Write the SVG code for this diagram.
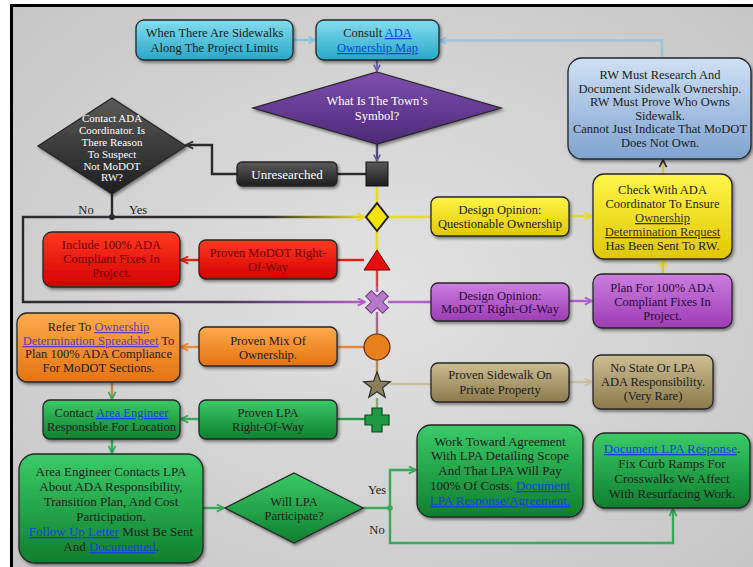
<svg xmlns="http://www.w3.org/2000/svg" width="753" height="567" viewBox="0 0 753 567">
<defs>
<radialGradient id="bg" cx="0.5" cy="0.5" r="0.75">
<stop offset="0" stop-color="#e2e2e2"/><stop offset="1" stop-color="#c4c4c4"/>
</radialGradient>
<linearGradient id="gCyan" x1="0" y1="0" x2="0" y2="1"><stop offset="0" stop-color="#86dcee"/><stop offset="1" stop-color="#25a9c8"/></linearGradient>
<linearGradient id="gSteel" x1="0" y1="0" x2="0" y2="1"><stop offset="0" stop-color="#cfe0f4"/><stop offset="1" stop-color="#7fa3d0"/></linearGradient>
<linearGradient id="gPurpD" x1="0" y1="0" x2="0" y2="1"><stop offset="0" stop-color="#7e4fb0"/><stop offset="1" stop-color="#4c2a78"/></linearGradient>
<linearGradient id="gYel" x1="0" y1="0" x2="0" y2="1"><stop offset="0" stop-color="#fff54a"/><stop offset="1" stop-color="#e0c800"/></linearGradient>
<linearGradient id="gPurp" x1="0" y1="0" x2="0" y2="1"><stop offset="0" stop-color="#cc7ee0"/><stop offset="1" stop-color="#9c3cb4"/></linearGradient>
<linearGradient id="gTan" x1="0" y1="0" x2="0" y2="1"><stop offset="0" stop-color="#cdbd92"/><stop offset="1" stop-color="#8c7a4c"/></linearGradient>
<linearGradient id="gRed" x1="0" y1="0" x2="0" y2="1"><stop offset="0" stop-color="#ff3a22"/><stop offset="1" stop-color="#d40000"/></linearGradient>
<linearGradient id="gOr" x1="0" y1="0" x2="0" y2="1"><stop offset="0" stop-color="#ffaa4c"/><stop offset="1" stop-color="#e47412"/></linearGradient>
<linearGradient id="gGr" x1="0" y1="0" x2="0" y2="1"><stop offset="0" stop-color="#3acb68"/><stop offset="1" stop-color="#0f7f2e"/></linearGradient>
<linearGradient id="gDark" x1="0" y1="0" x2="0" y2="1"><stop offset="0" stop-color="#5a5a5a"/><stop offset="1" stop-color="#1e1e1e"/></linearGradient>
<linearGradient id="gYesLine" x1="112" y1="0" x2="365" y2="0" gradientUnits="userSpaceOnUse"><stop offset="0" stop-color="#2a2a2a"/><stop offset="0.6" stop-color="#2a2a2a"/><stop offset="1" stop-color="#e8dc20"/></linearGradient>
<linearGradient id="gNoLine" x1="23" y1="0" x2="366" y2="0" gradientUnits="userSpaceOnUse"><stop offset="0" stop-color="#2a2a2a"/><stop offset="0.6" stop-color="#4a3a5a"/><stop offset="1" stop-color="#b060c8"/></linearGradient>
<filter id="sh" x="-20%" y="-20%" width="140%" height="150%"><feDropShadow dx="1.5" dy="2" stdDeviation="1.6" flood-color="#000" flood-opacity="0.45"/></filter>
<marker id="aBlue" viewBox="0 0 10 10" refX="9" refY="5" markerWidth="8" markerHeight="8" markerUnits="userSpaceOnUse" orient="auto"><path d="M1,1 L9,5 L1,9" fill="none" stroke="#80c4e0" stroke-width="2"/></marker>
<marker id="aPurpD" viewBox="0 0 10 10" refX="9" refY="5" markerWidth="8" markerHeight="8" markerUnits="userSpaceOnUse" orient="auto"><path d="M1,1 L9,5 L1,9" fill="none" stroke="#6a5a9a" stroke-width="2"/></marker>
<marker id="aDark" viewBox="0 0 10 10" refX="9" refY="5" markerWidth="9" markerHeight="9" markerUnits="userSpaceOnUse" orient="auto"><path d="M1,1 L9,5 L1,9" fill="none" stroke="#333" stroke-width="2"/></marker>
<marker id="aYel" viewBox="0 0 10 10" refX="9" refY="5" markerWidth="9" markerHeight="9" markerUnits="userSpaceOnUse" orient="auto"><path d="M1,1 L9,5 L1,9" fill="none" stroke="#e8dc20" stroke-width="2"/></marker>
<marker id="aPurp" viewBox="0 0 10 10" refX="9" refY="5" markerWidth="9" markerHeight="9" markerUnits="userSpaceOnUse" orient="auto"><path d="M1,1 L9,5 L1,9" fill="none" stroke="#b060c8" stroke-width="2"/></marker>
<marker id="aRed" viewBox="0 0 10 10" refX="9" refY="5" markerWidth="9" markerHeight="9" markerUnits="userSpaceOnUse" orient="auto"><path d="M1,1 L9,5 L1,9" fill="none" stroke="#e02010" stroke-width="2"/></marker>
<marker id="aOr" viewBox="0 0 10 10" refX="9" refY="5" markerWidth="9" markerHeight="9" markerUnits="userSpaceOnUse" orient="auto"><path d="M1,1 L9,5 L1,9" fill="none" stroke="#e88a3a" stroke-width="2"/></marker>
<marker id="aTan" viewBox="0 0 10 10" refX="9" refY="5" markerWidth="9" markerHeight="9" markerUnits="userSpaceOnUse" orient="auto"><path d="M1,1 L9,5 L1,9" fill="none" stroke="#c8bea0" stroke-width="2"/></marker>
<marker id="aGr" viewBox="0 0 10 10" refX="9" refY="5" markerWidth="9" markerHeight="9" markerUnits="userSpaceOnUse" orient="auto"><path d="M1,1 L9,5 L1,9" fill="none" stroke="#3aa85a" stroke-width="2"/></marker>
<style>
text{font-family:"Liberation Serif","Times New Roman",serif;font-size:12.5px;text-anchor:middle;fill:#1c1c1c}
.box{stroke:#262626;stroke-width:1.3;filter:url(#sh)}
.w{fill:#ffffff}
.dr{fill:#6e0000}
.pt{fill:#2a0a3a}
.lk{fill:#1a3ee0;text-decoration:underline}
.lp{fill:#5a3cc0;text-decoration:underline}
.ld{fill:#333;text-decoration:underline}
.c{fill:none;stroke-width:2.4}
.sm{font-size:11px}
.big{font-size:13px}
</style>
</defs>
<rect x="0" y="0" width="753" height="567" fill="#ffffff"/>
<rect x="12" y="6" width="741" height="561" fill="url(#bg)"/>
<path d="M10,5.5 H753 M11.5,4 V567" fill="none" stroke="#000" stroke-width="3"/>

<g id="connectors">
<path class="c" d="M293,40 H315" stroke="#80c4e0" marker-end="url(#aBlue)"/>
<path class="c" d="M662,58 V40.5 H440" stroke="#9cc4dc" marker-end="url(#aBlue)"/>
<path class="c" d="M377,60 V71" stroke="#7a68a8" marker-end="url(#aPurpD)"/>
<path class="c" d="M377,144 V161" stroke="#5a4a7a" marker-end="url(#aPurpD)"/>
<path class="c" d="M366,174 H337" stroke="#2a2a2a"/>
<path class="c" d="M237,174 H212 V145 H186" stroke="#2a2a2a" marker-end="url(#aDark)"/>
<path class="c" d="M112,193 V217" stroke="#2a2a2a"/>
<path class="c" d="M112,217 H364" stroke="url(#gYesLine)" marker-end="url(#aYel)"/>
<path class="c" d="M112,217 H23 V302 H365" stroke="url(#gNoLine)" marker-end="url(#aPurp)"/>
<circle cx="112" cy="217" r="3" fill="#2a2a2a"/>
<path class="c" d="M377,186 V205 M377,229 V252" stroke="#e8dc20"/>
<path class="c" d="M377,270 V286" stroke="#d84040"/>
<path class="c" d="M377,286 V292" stroke="#b060a8"/>
<path class="c" d="M377,312 V334" stroke="#a06a8a"/>
<path class="c" d="M377,360 V374" stroke="#b08a60"/>
<path class="c" d="M377,398 V408" stroke="#8aa880"/>
<path class="c" d="M389,217 H431" stroke="#e8dc20"/>
<path class="c" d="M569,216 H592" stroke="#e8dc20" marker-end="url(#aYel)"/>
<path class="c" d="M364,260 H337" stroke="#e02010"/>
<path class="c" d="M199,260 H181" stroke="#e02010" marker-end="url(#aRed)"/>
<path class="c" d="M388,302 H431" stroke="#b060c8"/>
<path class="c" d="M569,301 H592" stroke="#b060c8" marker-end="url(#aPurp)"/>
<path class="c" d="M364,347 H337" stroke="#e88a3a"/>
<path class="c" d="M199,347 H181" stroke="#e88a3a" marker-end="url(#aOr)"/>
<path class="c" d="M390,384 H431" stroke="#c8bea0"/>
<path class="c" d="M569,382 H592" stroke="#c8bea0" marker-end="url(#aTan)"/>
<path class="c" d="M365,419 H337" stroke="#2a9a4a"/>
<path class="c" d="M199,419 H181" stroke="#3aa85a" marker-end="url(#aGr)"/>
<path class="c" d="M112,382 V399" stroke="#c08a50" marker-end="url(#aGr)"/>
<path class="c" d="M112,439 V453" stroke="#3aa85a" marker-end="url(#aGr)"/>
<path class="c" d="M203,508 H224" stroke="#3aa85a" marker-end="url(#aGr)"/>
<path class="c" d="M363,508 H390 V470 H416" stroke="#3aa85a" marker-end="url(#aGr)"/>
<path class="c" d="M390,508 V543 H673 V509" stroke="#3aa85a" marker-end="url(#aGr)"/>
<circle cx="390" cy="508" r="2.8" fill="#3aa85a"/>
<path class="c" d="M663,274 V260" stroke="#d8c830" marker-end="url(#aYel)"/>
<path class="c" d="M663,174 V160" stroke="#d8c830" marker-end="url(#aDark)"/>
</g>

<g id="start">
<rect class="box" x="136" y="20" width="157" height="40" rx="8" fill="url(#gCyan)"/>
<text x="214.5" y="37">When There Are Sidewalks</text>
<text x="214.5" y="52">Along The Project Limits</text>
</g>
<g id="consult">
<rect class="box" x="316" y="20" width="123" height="40" rx="8" fill="url(#gCyan)"/>
<text x="377.5" y="37">Consult <tspan class="lk">ADA</tspan></text>
<text x="377.5" y="52"><tspan class="lk">Ownership Map</tspan></text>
</g>
<g id="symbol">
<polygon class="box" points="377,72 501,108 377,144 253,108" fill="url(#gPurpD)"/>
<text class="w" x="377" y="105">What Is The Town’s</text>
<text class="w" x="377" y="120">Symbol?</text>
</g>
<g id="rw">
<rect class="box" x="568" y="58" width="183" height="101" rx="14" fill="url(#gSteel)"/>
<text x="660" y="79">RW Must Research And</text>
<text x="660" y="92.5">Document Sidewalk Ownership.</text>
<text x="660" y="106">RW Must Prove Who Owns</text>
<text x="660" y="119.5">Sidewalk.</text>
<text x="660" y="133">Cannot Just Indicate That MoDOT</text>
<text x="660" y="146.5">Does Not Own.</text>
</g>
<g id="check">
<rect class="box" x="593" y="174" width="139" height="85" rx="11" fill="url(#gYel)"/>
<text x="662.5" y="194">Check With ADA</text>
<text x="662.5" y="208">Coordinator To Ensure</text>
<text x="662.5" y="222"><tspan class="ld">Ownership</tspan></text>
<text x="662.5" y="236"><tspan class="ld">Determination Request</tspan></text>
<text x="662.5" y="250">Has Been Sent To RW.</text>
</g>
<g id="plan">
<rect class="box" x="593" y="274" width="139" height="54" rx="9" fill="url(#gPurp)"/>
<text class="pt" x="662.5" y="292">Plan For 100% ADA</text>
<text class="pt" x="662.5" y="306">Compliant Fixes In</text>
<text class="pt" x="662.5" y="320">Project.</text>
</g>
<g id="questionable">
<rect class="box" x="431" y="197" width="138" height="39" rx="7" fill="url(#gYel)"/>
<text x="500" y="214">Design Opinion:</text>
<text x="500" y="228">Questionable Ownership</text>
</g>
<g id="modot-opinion">
<rect class="box" x="431" y="283" width="138" height="38" rx="7" fill="url(#gPurp)"/>
<text class="pt" x="500" y="300">Design Opinion:</text>
<text class="pt" x="500" y="313">MoDOT Right-Of-Way</text>
</g>
<g id="private">
<rect class="box" x="431" y="363" width="138" height="39" rx="7" fill="url(#gTan)"/>
<text x="500" y="379">Proven Sidewalk On</text>
<text x="500" y="394">Private Property</text>
</g>
<g id="norespons">
<rect class="box" x="593" y="355" width="120" height="54" rx="8" fill="url(#gTan)"/>
<text x="653" y="372">No State Or LPA</text>
<text x="653" y="386">ADA Responsibility.</text>
<text x="653" y="400">(Very Rare)</text>
</g>
<g id="unresearched">
<rect class="box" x="237" y="162" width="100" height="24" rx="5" fill="url(#gDark)"/>
<text class="w big" x="287" y="178.5">Unresearched</text>
</g>
<g id="contact-ada">
<polygon class="box" points="112,98 186,146 112,194 38,146" fill="url(#gDark)"/>
<text class="w sm" x="112" y="122">Contact ADA</text>
<text class="w sm" x="112" y="134">Coordinator. Is</text>
<text class="w sm" x="112" y="146">There Reason</text>
<text class="w sm" x="112" y="158">To Suspect</text>
<text class="w sm" x="112" y="170">Not MoDOT</text>
<text class="w sm" x="112" y="181">RW?</text>
<text x="86" y="214">No</text>
<text x="138" y="214">Yes</text>
</g>
<g id="symbols">
<rect x="366" y="162" width="22" height="24" fill="url(#gDark)" stroke="#111" stroke-width="1"/>
<polygon points="377,203 388,217 377,231 366,217" fill="#f4e400" stroke="#1e1e1e" stroke-width="2"/>
<polygon points="377,250 390,270 364,270" fill="#e41010" stroke="#7a0000" stroke-width="1"/>
<polygon transform="translate(377,302) rotate(45)" points="-4,-12 4,-12 4,-4 12,-4 12,4 4,4 4,12 -4,12 -4,4 -12,4 -12,-4 -4,-4" fill="#b878cc" stroke="#6a3a7a" stroke-width="1"/>
<circle cx="377" cy="347" r="13" fill="#e8801e" stroke="#5a3010" stroke-width="1.2"/>
<polygon points="377,372 380.5,381.2 390.3,381.7 382.6,387.8 385.2,397.3 377,391.8 368.8,397.3 371.4,387.8 363.7,381.7 373.5,381.2" fill="#8c7e58" stroke="#2e2e2e" stroke-width="1.2"/>
<polygon points="372,408 382,408 382,415 389,415 389,425 382,425 382,432 372,432 372,425 365,425 365,415 372,415" fill="#1e9a44" stroke="#0a4a1a" stroke-width="1.2"/>
</g>
<g id="include">
<rect class="box" x="43" y="232" width="137" height="55" rx="9" fill="url(#gRed)"/>
<text class="dr" x="111.5" y="249">Include 100% ADA</text>
<text class="dr" x="111.5" y="263">Compliant Fixes In</text>
<text class="dr" x="111.5" y="277">Project.</text>
</g>
<g id="proven-modot">
<rect class="box" x="199" y="240" width="138" height="39" rx="7" fill="url(#gRed)"/>
<text class="dr" x="268" y="257">Proven MoDOT Right-</text>
<text class="dr" x="268" y="271">Of-Way</text>
</g>
<g id="refer">
<rect class="box" x="17" y="313" width="163" height="69" rx="10" fill="url(#gOr)"/>
<text x="98.5" y="331">Refer To <tspan class="lp">Ownership</tspan></text>
<text x="98.5" y="345"><tspan class="lp">Determination Spreadsheet</tspan> To</text>
<text x="98.5" y="358">Plan 100% ADA Compliance</text>
<text x="98.5" y="372">For MoDOT Sections.</text>
</g>
<g id="mix">
<rect class="box" x="199" y="327" width="138" height="39" rx="7" fill="url(#gOr)"/>
<text x="268" y="345">Proven Mix Of</text>
<text x="268" y="359">Ownership.</text>
</g>
<g id="contact-ae">
<rect class="box" x="43" y="400" width="137" height="39" rx="7" fill="url(#gGr)"/>
<text x="111.5" y="417">Contact <tspan class="lk">Area Engineer</tspan></text>
<text x="111.5" y="431">Responsible For Location</text>
</g>
<g id="proven-lpa">
<rect class="box" x="199" y="400" width="138" height="39" rx="7" fill="url(#gGr)"/>
<text x="268" y="417">Proven LPA</text>
<text x="268" y="431">Right-Of-Way</text>
</g>
<g id="ae-contacts">
<rect class="box" x="19" y="454" width="184" height="109" rx="16" fill="url(#gGr)"/>
<text class="big" x="111" y="476">Area Engineer Contacts LPA</text>
<text class="big" x="111" y="491">About ADA Responsibility,</text>
<text class="big" x="111" y="506">Transition Plan, And Cost</text>
<text class="big" x="111" y="521">Participation.</text>
<text class="big" x="111" y="536"><tspan class="lk">Follow Up Letter</tspan> Must Be Sent</text>
<text class="big" x="111" y="551">And <tspan class="lk">Documented</tspan>.</text>
</g>
<g id="will-lpa">
<polygon class="box" points="294,473 363,508 294,543 225,508" fill="url(#gGr)"/>
<text x="294" y="506">Will LPA</text>
<text x="294" y="520">Participate?</text>
<text x="377" y="494">Yes</text>
<text x="377" y="534">No</text>
</g>
<g id="agreement">
<rect class="box" x="417" y="425" width="166" height="92" rx="14" fill="url(#gGr)"/>
<text class="big" x="500" y="446">Work Toward Agreement</text>
<text class="big" x="500" y="460">With LPA Detailing Scope</text>
<text class="big" x="500" y="475">And That LPA Will Pay</text>
<text class="big" x="500" y="490">100% Of Costs. <tspan class="lk">Document</tspan></text>
<text class="big" x="500" y="505"><tspan class="lk">LPA Response/Agreement.</tspan></text>
</g>
<g id="document">
<rect class="box" x="593" y="433" width="157" height="75" rx="12" fill="url(#gGr)"/>
<text class="big" x="672" y="453"><tspan class="lk">Document LPA Response</tspan>.</text>
<text class="big" x="672" y="468">Fix Curb Ramps For</text>
<text class="big" x="672" y="483">Crosswalks We Affect</text>
<text class="big" x="672" y="498">With Resurfacing Work.</text>
</g>
</svg>
